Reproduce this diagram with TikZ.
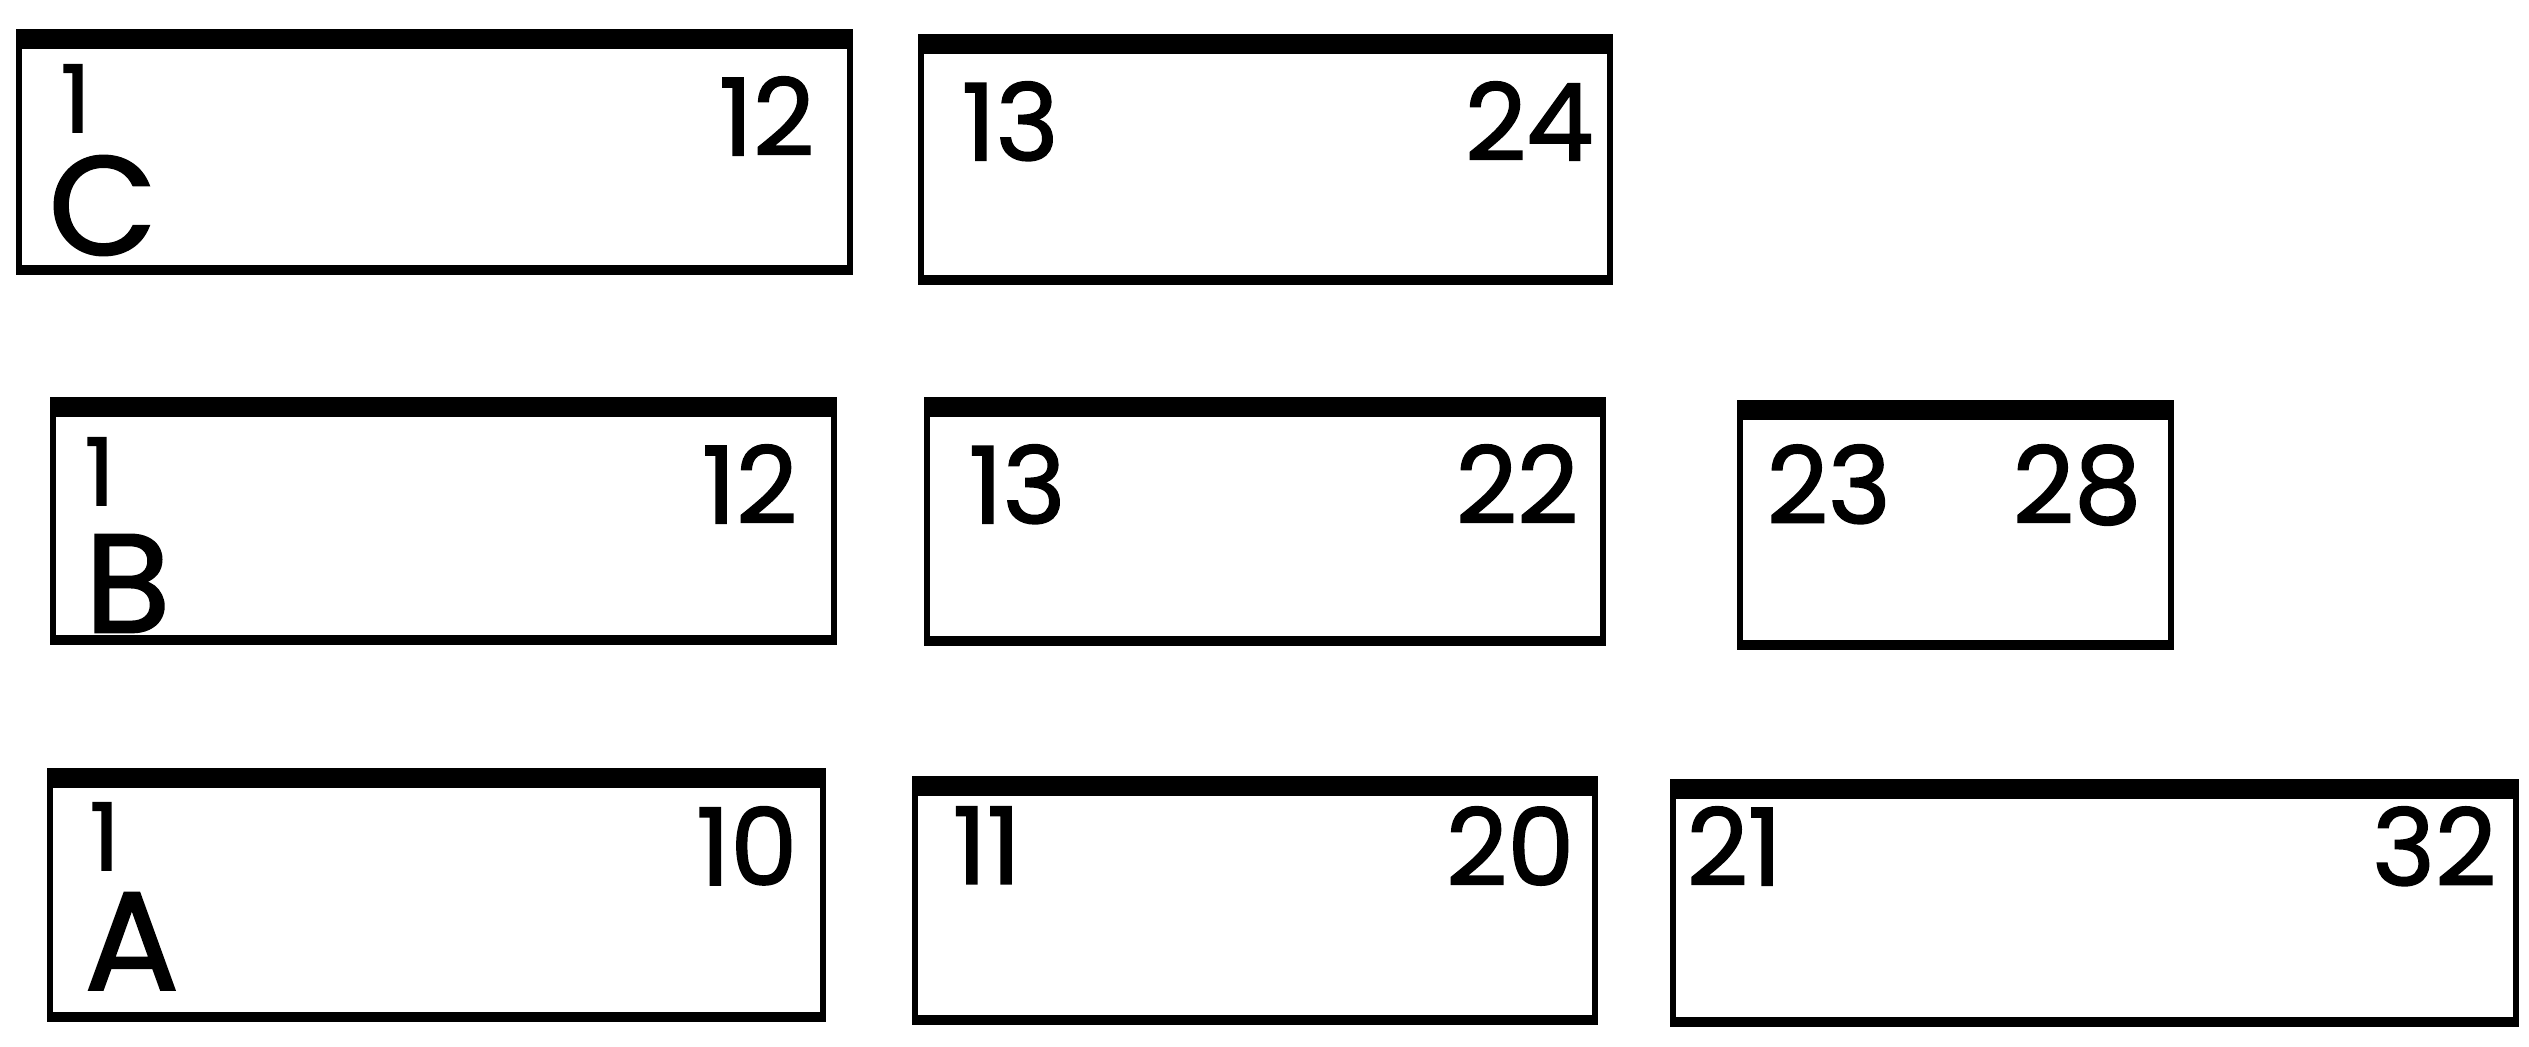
\documentclass[tikz,border=0pt]{standalone}
\usepackage{fontspec}
\setmainfont{Poppins}
\newfontfamily\numfont[FakeBold=1.6]{Poppins}
\usetikzlibrary{fit}
\tikzset{
  boxst/.style={draw, line width=1.8pt, inner sep=0pt},
  num/.style={inner sep=0pt, font=\numfont\fontsize{32}{36}\selectfont},
  one/.style={inner sep=0pt, font=\numfont\fontsize{28}{32}\selectfont},
  letter/.style={inner sep=0pt, font=\numfont\fontsize{42}{46}\selectfont},
}
\newcommand{\topbar}[1]{%
  \fill ([yshift=0.9pt]#1.north west) rectangle ([yshift=-5.0pt]#1.north east);
  \fill ([yshift=-0.9pt]#1.south west) rectangle ([yshift=2.2pt]#1.south east);}
\begin{document}
\begin{tikzpicture}[x=0.3pt,y=-0.3pt]
\useasboundingbox (0,0) rectangle (2529,1046);
% row C
\node[boxst, fit={(19,35)(850,269)}] (C1) {};
\node[boxst, fit={(921,40)(1610,279)}] (C2) {};
% row B
\node[boxst, fit={(53,403)(834,639)}] (B1) {};
\node[boxst, fit={(927,403)(1603,640)}] (B2) {};
\node[boxst, fit={(1740,406)(2171,644)}] (B3) {};
% row A
\node[boxst, fit={(50,774)(823,1016)}] (A1) {};
\node[boxst, fit={(915,782)(1595,1019)}] (A2) {};
\node[boxst, fit={(1673,785)(2516,1021)}] (A3) {};
\foreach \b in {C1,C2,B1,B2,B3,A1,A2,A3} {\topbar{\b}}
% labels C
\node[one, anchor=north west] (C1l) at (60,64) {1};
\node[letter, anchor=north west] (C1L) at (48,155) {C};
\node[num, anchor=north east] (C1r) at (815,76) {12};
\node[num, anchor=north west] (C2l) at (961,81) {13};
\node[num, anchor=north east] (C2r) at (1594,81) {24};
% labels B
\node[one, anchor=north west] (B1l) at (84,437) {1};
\node[letter, anchor=north west] (B1L) at (84,534) {B};
\node[num, anchor=north east] (B1r) at (798,444) {12};
\node[num, anchor=north west] (B2l) at (968,444) {13};
\node[num, anchor=north east] (B2r) at (1579,444) {22};
\node[num, anchor=north west] (B3l) at (1766,444) {23};
\node[num, anchor=north east] (B3r) at (2142,444) {28};
% labels A
\node[one, anchor=north west] (A1l) at (89,802) {1};
\node[letter, anchor=north west] (A1L) at (84,892) {A};
\node[num, anchor=north east] (A1r) at (798,806) {10};
\node[num, anchor=north west] (A2l) at (952,806) {11};
\node[num, anchor=north east] (A2r) at (1575,806) {20};
\node[num, anchor=north west] (A3l) at (1686,806) {21};
\node[num, anchor=north east] (A3r) at (2497,806) {32};
\end{tikzpicture}
\end{document}
